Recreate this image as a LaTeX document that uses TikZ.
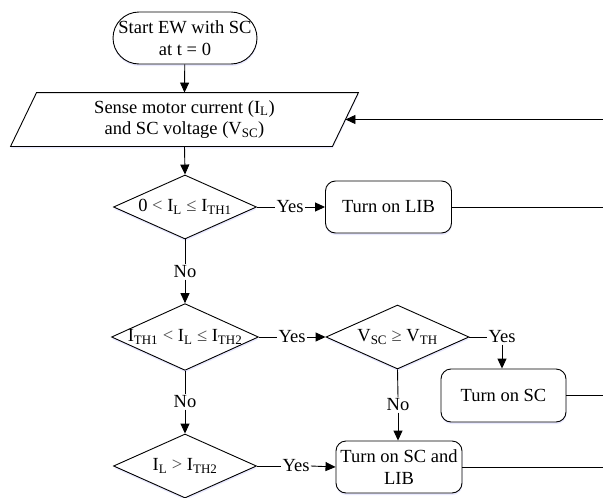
\documentclass[tikz,border=0pt]{standalone}
\usepackage{fontspec}
\setmainfont{Liberation Serif}
\usetikzlibrary{shapes.geometric,arrows.meta,shadows}
\begin{document}
\begin{tikzpicture}[x=1pt,y=-1pt,
  font=\fontsize{18.5}{21.5}\selectfont,
  line width=0.9pt,
  glow/.style={drop shadow={shadow xshift=0.3pt,shadow yshift=-2pt,fill=blue!25,opacity=0.35}},
  term/.style={draw,rounded corners=26pt,minimum width=144pt,minimum height=52pt,inner sep=0pt,align=center,fill=white,glow},
  proc/.style={draw,rounded corners=10pt,minimum width=126pt,minimum height=52pt,inner sep=0pt,align=center,fill=white,glow},
  dec/.style={draw,diamond,aspect=2.2,minimum width=143pt,minimum height=64pt,inner sep=0pt,fill=white,glow},
  lbl/.style={inner sep=1pt},
  arr/.style={-{Triangle[length=10pt,width=9pt]}}
]
\useasboundingbox (0,0) rectangle (603,498);

\node[term] (start) at (185,38) {Start EW with SC\\at t = 0};

\node[minimum width=347pt,minimum height=53pt,inner sep=0pt,align=center] (sense) at (184.5,119.5) {};
\draw[fill=white,glow] ([xshift=26pt]sense.north west) -- (sense.north east) -- ([xshift=-26pt]sense.south east) -- (sense.south west) -- cycle;
\node[align=center,inner sep=0pt] (sensetxt) at (sense.center) {Sense motor current (I\textsubscript{L})\\and SC voltage (V\textsubscript{SC})};
\coordinate (fbin) at ([xshift=-13pt]sense.east);

\node[dec] (d1) at (185,207) {0 {\color{black!70}<} I\textsubscript{L} {\color{black!70}≤} I\textsubscript{TH1}};
\node[proc] (lib) at (388.5,207) {Turn on LIB};

\node[dec] (d2) at (185,337) {I\textsubscript{TH1} {\color{black!70}<} I\textsubscript{L} {\color{black!70}≤} I\textsubscript{TH2}};
\node[dec] (d3) at (397.5,337) {V\textsubscript{SC} {\color{black!70}≥} V\textsubscript{TH}};
\node[proc,minimum width=125pt,minimum height=53pt] (sc) at (503.5,395.5) {Turn on SC};

\node[dec] (d4) at (185,466) {I\textsubscript{L} {\color{black!70}>} I\textsubscript{TH2}};
\node[proc] (sclib) at (399,467) {Turn on SC and\\LIB};

% labels
\node[lbl] (yes1) at (290,207) {Yes};
\node[lbl] (no1) at (185,272) {No};
\node[lbl] (yes2) at (292,337) {Yes};
\node[lbl] (yes3) at (502,337) {Yes};
\node[lbl] (no2) at (185,402) {No};
\node[lbl] (no3) at (398,405) {No};
\node[lbl] (yes4) at (296,466) {Yes};

% right edge coordinates
\coordinate (fbR) at (603,119.5);
\coordinate (libR) at (603,207);
\coordinate (scR) at (603,395.5);
\coordinate (sclibR) at (603,467);

% connectors
\draw[arr] (start) -- (sense.north);
\draw[arr] (sense.south) -- (d1.north);
\draw (d1.east) -- (yes1.west);
\draw[arr] (yes1.east) -- (lib.west);
\draw (d1.south) -- (no1.north);
\draw[arr] (no1.south) -- (d2.north);
\draw (d2.east) -- (yes2.west);
\draw[arr] (yes2.east) -- (d3.west);
\draw (d3.east) -- (yes3.west);
\draw[arr] (yes3.south) -- (yes3.south |- sc.north);
\draw (d3.south) -- (no3.north);
\draw[arr] (no3.south) -- (no3.south |- sclib.north);
\draw (d2.south) -- (no2.north);
\draw[arr] (no2.south) -- (d4.north);
\draw (d4.east) -- (yes4.west);
\draw[arr] (yes4.east) -- (sclib.west);

\draw (lib.east) -- (libR);
\draw (sc.east) -- (scR);
\draw (sclib.east) -- (sclibR);
\draw[arr] (fbR) -- (fbin);
\end{tikzpicture}
\end{document}
